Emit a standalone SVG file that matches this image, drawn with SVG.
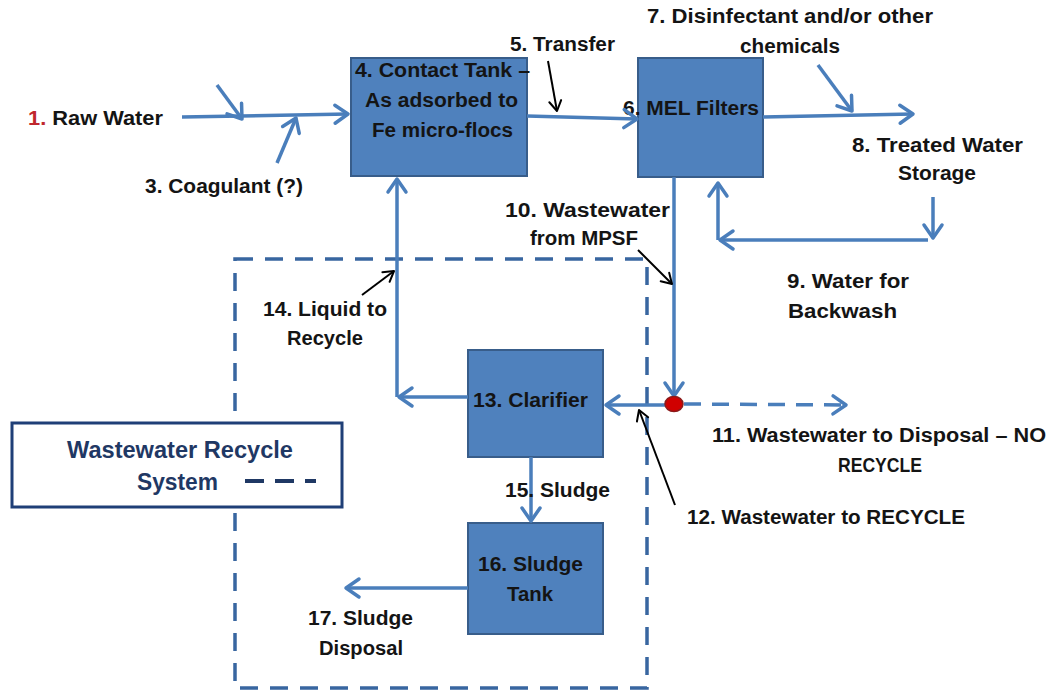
<svg xmlns="http://www.w3.org/2000/svg" width="1054" height="695" viewBox="0 0 1054 695">
<style>
text{font-family:"Liberation Sans",Arial,sans-serif;font-weight:bold;font-size:20px;fill:#141414}
.box{fill:#4F81BD;stroke:#385D8A;stroke-width:2}
.flow{fill:none;stroke:#4A7EBB;stroke-width:3.5;marker-end:url(#ab)}
.dflow{fill:none;stroke:#4A7EBB;stroke-width:3.5;stroke-dasharray:17 11;marker-end:url(#ab)}
.ptr{fill:none;stroke:#000;stroke-width:2;marker-end:url(#ak)}
.leg{fill:#1F3864;font-size:23px}
</style>
<defs>
<marker id="ab" viewBox="-16 -12 19 24" refX="0" refY="0" markerWidth="19" markerHeight="24" markerUnits="userSpaceOnUse" orient="auto">
<path d="M-13,-9 L0,0 L-13,9" fill="none" stroke="#4A7EBB" stroke-width="3.5" stroke-linecap="round" stroke-linejoin="round"/>
</marker>
<marker id="ak" viewBox="-12 -8 14 16" refX="0" refY="0" markerWidth="14" markerHeight="16" markerUnits="userSpaceOnUse" orient="auto">
<path d="M-10,-6 L0,0 L-10,6" fill="none" stroke="#000" stroke-width="2" stroke-linecap="round" stroke-linejoin="round"/>
</marker>
</defs>
<rect width="1054" height="695" fill="#fff"/>

<g id="recycle-boundary">
<rect x="235" y="259" width="412" height="429" fill="none" stroke="#3866A0" stroke-width="3.5" stroke-dasharray="18 12"/>
</g>

<g id="legend">
<rect x="12" y="423" width="330" height="84" fill="#fff" stroke="#1F3F77" stroke-width="3"/>
<text class="leg" x="67" y="458" textLength="226" lengthAdjust="spacingAndGlyphs">Wastewater Recycle</text>
<text class="leg" x="137" y="490" textLength="81" lengthAdjust="spacingAndGlyphs">System</text>
<line x1="245" y1="481" x2="316" y2="481" stroke="#1F3864" stroke-width="4" stroke-dasharray="19 11"/>
</g>

<g id="n4-contact-tank">
<rect class="box" x="351" y="58" width="176" height="118"/>
<text x="355" y="77" textLength="175" lengthAdjust="spacingAndGlyphs">4. Contact Tank –</text>
<text x="365" y="107" textLength="153" lengthAdjust="spacingAndGlyphs">As adsorbed to</text>
<text x="372" y="137" textLength="141" lengthAdjust="spacingAndGlyphs">Fe micro-flocs</text>
</g>

<g id="n6-mel-filters">
<rect class="box" x="638" y="58" width="125" height="119"/>
<text x="623" y="115" textLength="136" lengthAdjust="spacingAndGlyphs">6. MEL Filters</text>
</g>

<g id="n13-clarifier">
<rect class="box" x="468" y="350" width="135" height="107"/>
<text x="473" y="407" textLength="115" lengthAdjust="spacingAndGlyphs">13. Clarifier</text>
</g>

<g id="n16-sludge-tank">
<rect class="box" x="468" y="523" width="135" height="111"/>
<text x="478" y="571" textLength="105" lengthAdjust="spacingAndGlyphs">16. Sludge</text>
<text x="507" y="601" textLength="46" lengthAdjust="spacingAndGlyphs">Tank</text>
</g>

<g id="connectors">
<path class="flow" d="M182,117 L348,114"/>
<path class="flow" d="M217,85 L242,119"/>
<path class="flow" d="M277,163 L296,118"/>
<path class="flow" d="M527,116 L637,119"/>
<path class="flow" d="M763,117 L913,114"/>
<path class="flow" d="M818,65 L852,111"/>
<path class="flow" d="M933,197 L933,238"/>
<path class="flow" d="M928,240 L720,240"/>
<path class="flow" d="M718,240 L718,183"/>
<path class="flow" d="M674,177 L674,396"/>
<path class="dflow" d="M684,404 L846,405"/>
<path class="flow" d="M674,405 L606,405"/>
<path class="flow" d="M468,397 L399,397"/>
<path class="flow" d="M397,397 L397,179"/>
<path class="flow" d="M531,457 L531,521"/>
<path class="flow" d="M468,588 L346,588"/>
<ellipse cx="674" cy="404" rx="9" ry="7.5" fill="#D00000" stroke="#8B1A1A" stroke-width="1.5"/>
<path class="ptr" d="M548,61 L557,111"/>
<path class="ptr" d="M638,250 L672,284"/>
<path class="ptr" d="M675,505 L639,410"/>
<path class="ptr" d="M362,295 L394,271"/>
</g>

<g id="labels">
<text x="28" y="125" textLength="135" lengthAdjust="spacingAndGlyphs"><tspan fill="#C0272D">1.</tspan> Raw Water</text>
<text x="145" y="193" textLength="158" lengthAdjust="spacingAndGlyphs">3. Coagulant (?)</text>
<text x="510" y="51" textLength="105" lengthAdjust="spacingAndGlyphs">5. Transfer</text>
<text x="647" y="23" textLength="286" lengthAdjust="spacingAndGlyphs">7. Disinfectant and/or other</text>
<text x="740" y="53" textLength="100" lengthAdjust="spacingAndGlyphs">chemicals</text>
<text x="852" y="152" textLength="171" lengthAdjust="spacingAndGlyphs">8. Treated Water</text>
<text x="898" y="180" textLength="78" lengthAdjust="spacingAndGlyphs">Storage</text>
<text x="505" y="217" textLength="165" lengthAdjust="spacingAndGlyphs">10. Wastewater</text>
<text x="530" y="245" textLength="108" lengthAdjust="spacingAndGlyphs">from MPSF</text>
<text x="787" y="288" textLength="122" lengthAdjust="spacingAndGlyphs">9. Water for</text>
<text x="788" y="318" textLength="109" lengthAdjust="spacingAndGlyphs">Backwash</text>
<text x="263" y="316" textLength="124" lengthAdjust="spacingAndGlyphs">14. Liquid to</text>
<text x="287" y="345" textLength="76" lengthAdjust="spacingAndGlyphs">Recycle</text>
<text x="712" y="442" textLength="334" lengthAdjust="spacingAndGlyphs">11. Wastewater to Disposal – NO</text>
<text x="838" y="472" textLength="84" lengthAdjust="spacingAndGlyphs">RECYCLE</text>
<text x="687" y="524" textLength="278" lengthAdjust="spacingAndGlyphs">12. Wastewater to RECYCLE</text>
<text x="505" y="497" textLength="105" lengthAdjust="spacingAndGlyphs">15. Sludge</text>
<text x="308" y="625" textLength="105" lengthAdjust="spacingAndGlyphs">17. Sludge</text>
<text x="319" y="655" textLength="84" lengthAdjust="spacingAndGlyphs">Disposal</text>
</g>
</svg>
